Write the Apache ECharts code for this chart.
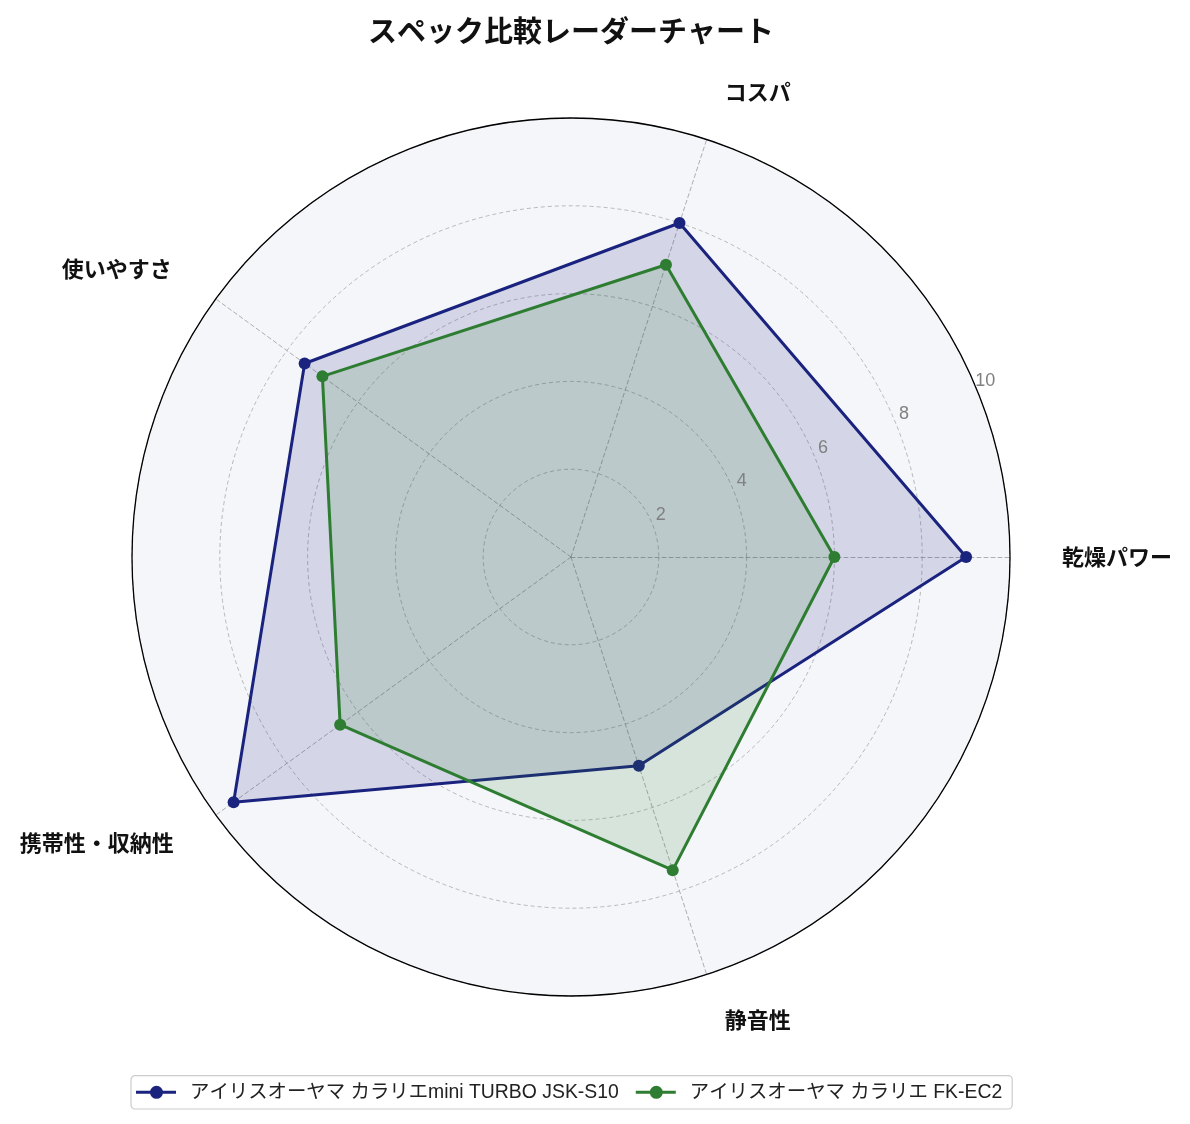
<!DOCTYPE html>
<html>
<head>
<meta charset="utf-8">
<script src="https://cdn.jsdelivr.net/npm/echarts@6/dist/echarts.min.js"></script>
<style>html,body{margin:0;padding:0;background:#fff;}#chart{width:1190px;height:1124px;}</style>
</head>
<body>
<div id="chart"></div>
<script>
const titleText = 'スペック比較レーダーチャート';
const categories = ['乾燥パワー', 'コスパ', '使いやすさ', '携帯性・収納性', '静音性'];
const seriesNames = ['アイリスオーヤマ カラリエmini TURBO JSK-S10', 'アイリスオーヤマ カラリエ FK-EC2'];
const valuesA = [9, 8, 7.5, 9.5, 5];
const valuesB = [6, 7, 7, 6.5, 7.5];
const colors = ['#1a237e', '#2e7d32'];
const maxValue = 10;
const tickStep = 2;

const FONT = '"Noto Sans CJK JP", "Noto Sans", sans-serif';
const LFONT = '"Liberation Sans", "Noto Sans CJK JP", sans-serif';
const legendIcon = 'path://M0,5H40V8H0Z M27,6.5A6.5,6.5 0 1 1 14,6.5A6.5,6.5 0 1 1 27,6.5Z';
const center = [571, 557];
const radius = 439;

// per-label fine placement (padding: top, right, bottom, left)
const namePads = [[0, 0, 0, 16], [0, 0, 28, 7], [0, 15, 19, 0], [13, 13, 0, 0], [22, 0, 0, 7]];
const nameRich = {};
namePads.forEach((p, i) => {
  nameRich['n' + i] = { color: '#111', fontSize: 22, fontWeight: 'bold', fontFamily: FONT, padding: p };
});

const chart = echarts.init(document.getElementById('chart'));
chart.setOption({
  backgroundColor: '#ffffff',
  textStyle: { fontFamily: FONT },
  title: {
    text: titleText,
    left: 566,
    top: 11,
    textAlign: 'center',
    textStyle: { fontSize: 29, fontWeight: 'bold', color: '#111', fontFamily: FONT }
  },
  legend: {
    bottom: 15,
    left: 131,
    data: seriesNames,
    icon: legendIcon,
    itemWidth: 40,
    itemHeight: 13,
    itemGap: 17,
    padding: [7, 10, 7, 5],
    borderColor: '#cccccc',
    borderWidth: 1.2,
    borderRadius: 4,
    formatter: name => '{t|' + name + '}',
    textStyle: {
      fontSize: 19.4, color: '#222', fontFamily: LFONT,
      rich: { t: { fontSize: 19.4, color: '#222', fontFamily: LFONT, padding: [0, 0, 0, 9] } }
    }
  },
  radar: {
    center: center,
    radius: radius,
    startAngle: 0,
    shape: 'circle',
    splitNumber: maxValue / tickStep,
    indicator: categories.map(n => ({ name: n, min: 0, max: maxValue })),
    axisName: {
      color: '#111', fontSize: 22, fontWeight: 'bold', fontFamily: FONT,
      formatter: (name) => '{n' + categories.indexOf(name) + '|' + name + '}',
      rich: nameRich
    },
    nameGap: 36,
    axisLine: { lineStyle: { color: '#9a9a9a', type: [4, 3], width: 0.8 } },
    splitLine: { lineStyle: { color: '#a8a8a8', type: [4, 3], width: 0.8 } },
    splitArea: { show: true, areaStyle: { color: ['#f5f6fa'] } },
    axisTick: { show: false },
    axisLabel: { show: false }
  },
  polar: { center: center, radius: radius },
  angleAxis: {
    startAngle: 22.5,
    min: 0, max: 360,
    axisLine: { show: true, lineStyle: { color: '#000', width: 1.3 } },
    axisTick: { show: false },
    axisLabel: { show: false },
    splitLine: { show: false },
    z: 10
  },
  radiusAxis: {
    min: 0, max: maxValue, interval: tickStep,
    axisLine: { show: false },
    axisTick: { show: false },
    splitLine: { show: false },
    axisLabel: {
      color: '#808080', fontSize: 18, fontFamily: LFONT, margin: 9,
      align: 'center', verticalAlign: 'middle',
      padding: [0, 0, 0, 24],
      formatter: v => (v === 0 ? '' : String(v))
    },
    z: 10
  },
  series: [
    {
      type: 'radar',
      name: seriesNames[0],
      symbol: 'circle',
      symbolSize: 12,
      z: 3,
      data: [{
        value: valuesA, name: seriesNames[0],
        itemStyle: { color: colors[0] },
        lineStyle: { color: colors[0], width: 3 },
        areaStyle: { color: colors[0], opacity: 0.15 }
      }],
      itemStyle: { color: colors[0] }
    },
    {
      type: 'radar',
      name: seriesNames[1],
      symbol: 'circle',
      symbolSize: 12,
      z: 4,
      data: [{
        value: valuesB, name: seriesNames[1],
        itemStyle: { color: colors[1] },
        lineStyle: { color: colors[1], width: 3 },
        areaStyle: { color: colors[1], opacity: 0.15 }
      }],
      itemStyle: { color: colors[1] }
    }
  ]
});
</script>
</body>
</html>
